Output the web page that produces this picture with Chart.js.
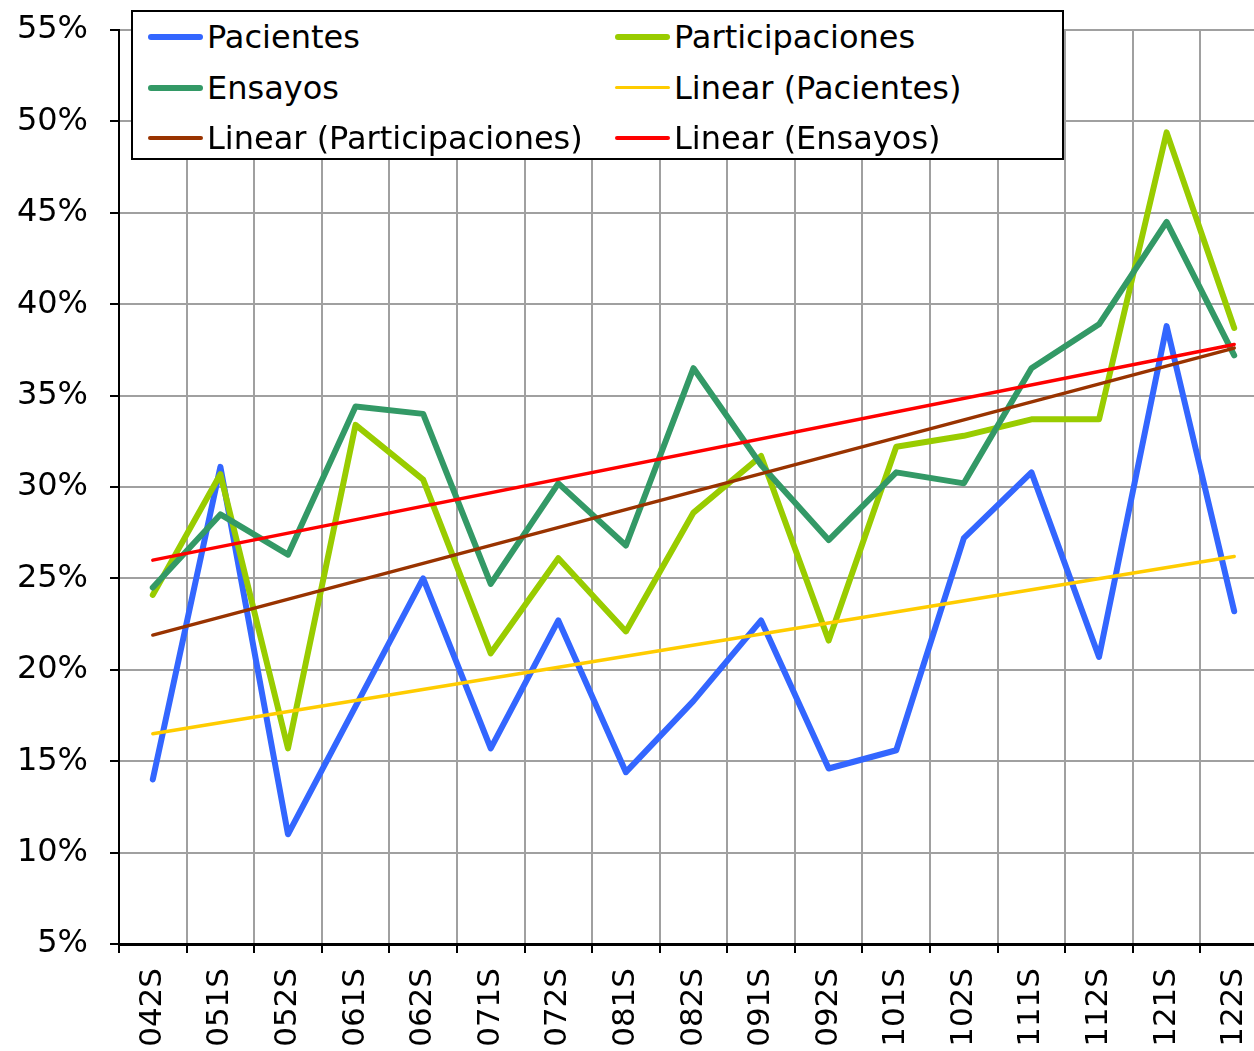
<!DOCTYPE html>
<html lang="es">
<head>
    <meta charset="UTF-8" />
    <title>Pacientes, participaciones y ensayos</title>
    <style>
        html, body { margin: 0; padding: 0; background: #fff; overflow: hidden; }
        .wrap { position: relative; width: 1280px; height: 1051px; }
        #legend {
            position: absolute; left: 131px; top: 10px;
            width: 929px; height: 146px;
            border: 2px solid #000; background: #fff;
            font-family: "DejaVu Sans", Verdana, sans-serif; font-size: 32px; color: #000;
        }
        .item { position: absolute; height: 50px; display: flex; align-items: center; white-space: nowrap; }
        .swatch { display: inline-block; width: 55px; margin-right: 4px; border-radius: 3px; }
    </style>
</head>
<body>
    <div class="wrap">
        <canvas id="chart" width="1280" height="1051"></canvas>
        <div id="legend"></div>
    </div>

    <script src="https://cdn.jsdelivr.net/npm/chart.js"></script>
    <script>
        // semesters
        const labels = ['042S', '051S', '052S', '061S', '062S', '071S', '072S', '081S', '082S',
                        '091S', '092S', '101S', '102S', '111S', '112S', '121S', '122S'];

        // values in %
        const pacientes = [14.0, 31.1, 11.0, 18.0, 25.0, 15.7, 22.7, 14.4, 18.3,
                           22.7, 14.6, 15.6, 27.2, 30.8, 20.7, 38.8, 23.2];
        const participaciones = [24.1, 30.7, 15.7, 33.4, 30.4, 20.9, 26.1, 22.1, 28.6,
                                 31.7, 21.6, 32.2, 32.8, 33.7, 33.7, 49.4, 38.7];
        const ensayos = [24.5, 28.5, 26.3, 34.4, 34.0, 24.7, 30.2, 26.8, 36.5,
                         31.2, 27.1, 30.8, 30.2, 36.5, 38.9, 44.5, 37.2];

        // trend lines, start and end values
        const trendPacientes = [16.5, 26.2];
        const trendParticipaciones = [21.9, 37.6];
        const trendEnsayos = [26.0, 37.8];

        const yTicks = { min: 5, max: 55, step: 5 };

        const FONT = { family: '"DejaVu Sans", Verdana, sans-serif', size: 32 };
        const XFONT = { family: '"DejaVu Sans", Verdana, sans-serif', size: 31 };

        function ends(vals) {
            return [{ x: labels[0], y: vals[0] }, { x: labels[labels.length - 1], y: vals[1] }];
        }

        const series = [
            { label: 'Pacientes', data: pacientes, color: '#3366FF', width: 6 },
            { label: 'Participaciones', data: participaciones, color: '#99CC00', width: 6 },
            { label: 'Ensayos', data: ensayos, color: '#339966', width: 6 },
            { label: 'Linear (Pacientes)', data: ends(trendPacientes), color: '#FFCC00', width: 3.5 },
            { label: 'Linear (Participaciones)', data: ends(trendParticipaciones), color: '#993300', width: 3.5 },
            { label: 'Linear (Ensayos)', data: ends(trendEnsayos), color: '#FF0000', width: 3.5 }
        ];

        const datasets = series.map((s, i) => ({
            label: s.label,
            data: s.data,
            borderColor: s.color,
            backgroundColor: s.color,
            borderWidth: s.width,
            borderJoinStyle: 'round',
            borderCapStyle: 'round',
            pointRadius: 0,
            tension: 0,
            fill: false,
            order: -i   // later series on top, like the original
        }));

        new Chart(document.getElementById('chart'), {
            type: 'line',
            data: { labels: labels, datasets: datasets },
            options: {
                responsive: false,
                animation: false,
                devicePixelRatio: 1,
                layout: { padding: { top: 30, right: 12, left: 0, bottom: 0 } },
                plugins: { legend: { display: false }, tooltip: { enabled: false } },
                scales: {
                    x: {
                        offset: true,
                        grid: { offset: true, color: '#A0A0A0', lineWidth: 2, tickColor: '#000', tickLength: 9 },
                        border: { color: '#000', width: 3 },
                        ticks: {
                            autoSkip: false, minRotation: 90, maxRotation: 90,
                            padding: 15, color: '#000', font: XFONT
                        },
                        afterFit: scale => {
                            scale.height = 107;
                            scale.paddingLeft = 0;
                            scale.paddingRight = 0;
                        }
                    },
                    y: {
                        min: yTicks.min, max: yTicks.max,
                        grid: { color: '#A0A0A0', lineWidth: 2, tickColor: '#000', tickLength: 9 },
                        border: { color: '#000', width: 2 },
                        ticks: {
                            stepSize: yTicks.step, padding: 22, color: '#000', font: FONT,
                            callback: v => v + '%'
                        },
                        afterFit: scale => {
                            scale.width = 119;
                            // the tick padding should not push the plot down
                            scale.paddingTop = 0;
                            scale.paddingBottom = 0;
                        }
                    }
                }
            }
        });

        // legend box drawn over the plot, two columns
        const legend = document.getElementById('legend');
        series.forEach((s, i) => {
            const item = document.createElement('div');
            item.className = 'item';
            item.style.left = (i % 2 === 0 ? 15 : 482) + 'px';
            item.style.top = (Math.floor(i / 2) * 50.5) + 'px';
            const sw = document.createElement('span');
            sw.className = 'swatch';
            sw.style.height = s.width + 'px';
            sw.style.background = s.color;
            item.appendChild(sw);
            item.appendChild(document.createTextNode(s.label));
            legend.appendChild(item);
        });
    </script>
</body>
</html>
